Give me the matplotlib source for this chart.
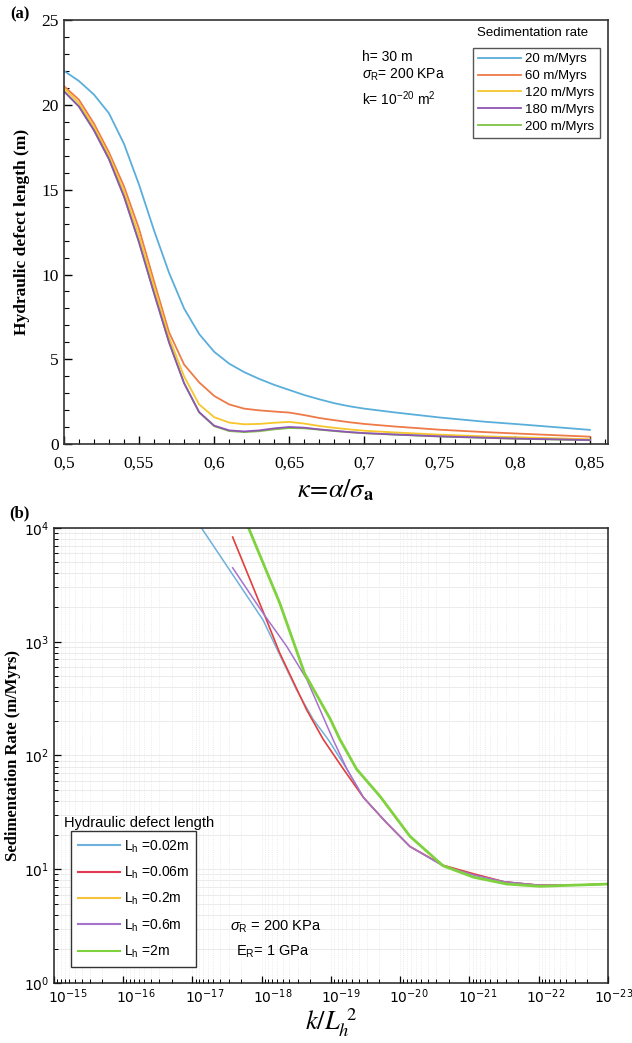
import numpy as np
import matplotlib
matplotlib.use("Agg")
import matplotlib.pyplot as plt
import matplotlib.transforms as mtransforms
from matplotlib.ticker import FixedLocator, MultipleLocator, LogLocator, NullFormatter

plt.rcParams['mathtext.fontset'] = 'custom'
plt.rcParams['mathtext.rm'] = 'Liberation Sans'
plt.rcParams['mathtext.it'] = 'Liberation Sans:italic'
plt.rcParams['mathtext.bf'] = 'Liberation Sans:bold'
plt.rcParams['axes.unicode_minus'] = False

SERIF = 'Liberation Serif'
SANS = 'Liberation Sans'

# ---- panel (a): hydraulic defect length vs kappa
kappa = [0.50, 0.51, 0.52, 0.53, 0.54, 0.55, 0.56, 0.57, 0.58, 0.59, 0.60, 0.61, 0.62,
         0.63, 0.64, 0.65, 0.66, 0.67, 0.68, 0.69, 0.70, 0.72, 0.75, 0.78, 0.80, 0.85]
len_20 = [22.0, 21.4, 20.6, 19.5, 17.7, 15.3, 12.6, 10.1, 8.0, 6.5, 5.45, 4.75, 4.25,
          3.85, 3.5, 3.2, 2.9, 2.65, 2.42, 2.24, 2.1, 1.88, 1.58, 1.33, 1.2, 0.85]
len_60 = [21.1, 20.3, 18.9, 17.2, 15.2, 12.7, 9.6, 6.6, 4.7, 3.65, 2.85, 2.35, 2.1,
          2.0, 1.93, 1.87, 1.72, 1.55, 1.42, 1.3, 1.2, 1.05, 0.86, 0.72, 0.64, 0.45]
len_120 = [21.0, 20.1, 18.7, 17.0, 14.9, 12.3, 9.3, 6.3, 4.0, 2.35, 1.6, 1.28, 1.18,
           1.2, 1.27, 1.32, 1.22, 1.08, 0.97, 0.88, 0.8, 0.7, 0.57, 0.47, 0.42, 0.3]
len_180 = [20.8, 19.9, 18.5, 16.8, 14.6, 11.9, 8.9, 6.0, 3.6, 1.9, 1.1, 0.82, 0.76,
           0.82, 0.94, 1.02, 0.98, 0.88, 0.8, 0.72, 0.66, 0.58, 0.47, 0.39, 0.34, 0.25]
len_200 = [20.8, 19.9, 18.5, 16.8, 14.6, 11.9, 8.9, 6.0, 3.6, 1.88, 1.07, 0.78, 0.72,
           0.77, 0.88, 0.96, 0.94, 0.86, 0.78, 0.71, 0.65, 0.57, 0.46, 0.38, 0.33, 0.24]
rate_labels = ['20 m/Myrs', '60 m/Myrs', '120 m/Myrs', '180 m/Myrs', '200 m/Myrs']
kappa_ticks = [0.5, 0.55, 0.6, 0.65, 0.7, 0.75, 0.8, 0.85]
kappa_ticklabels = ['0,5', '0,55', '0,6', '0,65', '0,7', '0,75', '0,8', '0,85']

# ---- panel (b): sedimentation rate vs k/Lh^2 (exponents of 10)
b_x_002 = [-17.05, -17.13, -18.02, -18.50, -18.74, -18.96, -19.23, -19.47, -19.80, -20.14,
           -20.62, -21.06, -21.5, -22.0, -22.5, -23.0]
b_y_002 = [4.08, 4.0, 3.19, 2.58, 2.32, 2.14, 1.88, 1.63, 1.41, 1.20,
           1.03, 0.95, 0.89, 0.86, 0.86, 0.87]
b_x_006 = [-17.58, -18.07, -18.26, -18.65, -18.89, -19.18, -19.47, -19.80, -20.14,
           -20.62, -21.06, -21.5, -22.0, -22.5, -23.0]
b_y_006 = [3.92, 3.19, 2.90, 2.40, 2.14, 1.88, 1.63, 1.41, 1.20,
           1.035, 0.96, 0.89, 0.86, 0.86, 0.87]
b_x_02 = b_x_006
b_y_02 = b_y_006
b_x_06 = [-17.58, -18.02, -18.36, -18.65, -19.03, -19.23, -19.47, -19.80, -20.14,
          -20.62, -21.06, -21.5, -22.0, -22.5, -23.0]
b_y_06 = [3.65, 3.25, 2.96, 2.67, 2.14, 1.88, 1.63, 1.41, 1.20,
          1.03, 0.95, 0.89, 0.86, 0.86, 0.87]
b_x_2 = [-17.75, -17.81, -18.26, -18.62, -18.99, -19.13, -19.37, -19.71, -20.14,
         -20.62, -21.06, -21.54, -22.02, -22.5, -23.0]
b_y_2 = [4.08, 4.0, 3.34, 2.72, 2.32, 2.14, 1.88, 1.64, 1.29,
         1.03, 0.93, 0.87, 0.85, 0.86, 0.87]
lh_labels = ['=0.02m', '=0.06m', '=0.2m', '=0.6m', '=2m']
b_decades = [-15, -16, -17, -18, -19, -20, -21, -22, -23]

fig = plt.figure(figsize=(6.32, 10.43), dpi=100)

# ================= (a)
ax1 = fig.add_axes([0.101, 0.574, 0.861, 0.407])
cols_a = ['#5aaedb', '#ee7a48', '#f6c62c', '#8e55b4', '#7dc245']
series_a = [len_20, len_60, len_120, len_200, len_180]
order_lab = [0, 1, 2, 4, 3]
handles = {}
for s, c, li in zip(series_a, [cols_a[0], cols_a[1], cols_a[2], cols_a[4], cols_a[3]], order_lab):
    h, = ax1.plot(kappa, s, color=c, lw=1.3)
    handles[li] = h
ax1.set_xlim(0.5, 0.862)
ax1.set_ylim(0, 25)
ax1.xaxis.set_major_locator(FixedLocator(kappa_ticks))
ax1.set_xticklabels(kappa_ticklabels)
ax1.xaxis.set_minor_locator(MultipleLocator(0.01))
ax1.yaxis.set_major_locator(MultipleLocator(5))
ax1.yaxis.set_minor_locator(MultipleLocator(1))
ax1.tick_params(which='both', direction='in', top=False, right=False, labelsize=12.5)
ax1.tick_params(which='major', length=6, width=1)
ax1.tick_params(which='minor', length=3.5, width=0.8)
for lab in ax1.get_xticklabels() + ax1.get_yticklabels():
    lab.set_family(SERIF)
ax1.tick_params(axis='x', pad=8)
for sp in ax1.spines.values():
    sp.set_color('#333333')
    sp.set_linewidth(1.2)
ax1.set_ylabel('Hydraulic defect length (m)', family=SERIF, fontweight='bold', fontsize=12.5, labelpad=8)
ax1.set_xlabel(r'$\kappa\!=\!\alpha/\sigma_{\mathbf{a}}$', fontsize=19, math_fontfamily='stix', labelpad=4)

leg1 = ax1.legend([handles[i] for i in range(5)], rate_labels, loc='upper right',
                  bbox_to_anchor=(0.985, 0.934), borderaxespad=0, fancybox=False,
                  edgecolor='#555555', framealpha=1, handlelength=3.3, labelspacing=0.35,
                  prop={'family': SANS, 'size': 9.5}, borderpad=0.4, handletextpad=0.3)
leg1.get_frame().set_linewidth(1.0)
ax1.text(0.862, 0.969, 'Sedimentation rate', transform=ax1.transAxes, ha='center', va='center',
         family=SANS, fontsize=9.5)
ax1.text(0.548, 0.913, 'h= 30 m', transform=ax1.transAxes, ha='left', va='center',
         family=SANS, fontsize=10)
ax1.text(0.548, 0.870, r'$\sigma_{\mathrm{R}}$= 200 KPa', transform=ax1.transAxes, ha='left',
         va='center', family=SANS, fontsize=10)
ax1.text(0.548, 0.815, r'k= 10$^{\mathrm{-20}}$ m$^{\mathrm{2}}$', transform=ax1.transAxes,
         ha='left', va='center', family=SANS, fontsize=10)
fig.text(0.016, 0.986, '(a)', family=SERIF, fontweight='bold', fontsize=12, ha='left', va='center')

# ================= (b)
ax2 = fig.add_axes([0.0854, 0.0575, 0.8766, 0.4363])
ax2.set_xscale('log')
ax2.set_yscale('log')
series_b = [
    (b_x_002, b_y_002, '#6fb0da', 1.1),
    (b_x_02, b_y_02, '#f7c23a', 1.1),
    (b_x_006, b_y_006, '#e23a52', 1.1),
    (b_x_06, b_y_06, '#a673cc', 1.1),
    (b_x_2, b_y_2, '#7fd23e', 2.0),
]
for xs, ys, c, lw in series_b:
    ax2.plot(np.power(10.0, xs), np.power(10.0, ys), color=c, lw=lw)
ax2.set_xlim(1e-15, 1e-23)
ax2.set_ylim(1, 1e4)
ax2.xaxis.set_major_locator(FixedLocator([10.0 ** d for d in b_decades]))
ax2.set_xticklabels([r'$\mathregular{10^{%d}}$' % d for d in b_decades])
ax2.xaxis.set_minor_locator(LogLocator(base=10, subs=np.arange(2, 10), numticks=20))
ax2.yaxis.set_major_locator(FixedLocator([1, 10, 100, 1000, 10000]))
ax2.set_yticklabels([r'$\mathregular{10^{%d}}$' % d for d in range(5)])
ax2.yaxis.set_minor_locator(LogLocator(base=10, subs=np.arange(2, 10), numticks=20))
ax2.xaxis.set_minor_formatter(NullFormatter())
ax2.yaxis.set_minor_formatter(NullFormatter())
ax2.tick_params(which='both', direction='in', top=False, right=False, labelsize=10)
ax2.tick_params(which='major', length=5, width=0.9)
ax2.tick_params(which='minor', length=3, width=0.7)
ax2.tick_params(axis='x', pad=3)
ax2.xaxis.grid(True, which='both', color='#e0e0e0', lw=0.5, ls=':')
ax2.yaxis.grid(True, which='both', color='#e8e8e8', lw=0.6, ls='-')
ax2.set_axisbelow(True)
for sp in ax2.spines.values():
    sp.set_color('#222222')
    sp.set_linewidth(1.1)
ax2.set_ylabel('Sedimentation Rate (m/Myrs)', family=SERIF, fontweight='bold', fontsize=12,
               labelpad=2)
ax2.set_xlabel(r'$k/L_h^{\ 2}$', fontsize=19, math_fontfamily='stix', labelpad=0)

# tick labels sit a little right of their ticks in the original (more on the left)
for i, lab in enumerate(ax2.get_xticklabels()):
    shift = mtransforms.ScaledTranslation((14 - i) / 100, 0, fig.dpi_scale_trans)
    lab.set_transform(lab.get_transform() + shift)

leg_handles = ax2.get_lines()
leg_order = [0, 2, 1, 3, 4]
leg2 = ax2.legend([leg_handles[i] for i in leg_order],
                  [r'L$_{\mathrm{h}}$ ' + s for s in lh_labels], loc='lower left',
                  bbox_to_anchor=(0.031, 0.035), borderaxespad=0, fancybox=False,
                  edgecolor='#333333', framealpha=1, handlelength=3.0, labelspacing=0.72,
                  prop={'family': SANS, 'size': 10}, borderpad=0.5, handletextpad=0.3)
leg2.get_frame().set_linewidth(1.0)
for l in leg2.get_lines():
    l.set_linewidth(1.5)
ax2.text(0.018, 0.352, 'Hydraulic defect length', transform=ax2.transAxes, ha='left',
         va='center', family=SANS, fontsize=10.5)
ax2.text(0.318, 0.123, r'$\sigma_{\mathrm{R}}$ = 200 KPa', transform=ax2.transAxes, ha='left',
         va='center', family=SANS, fontsize=10.5)
ax2.text(0.328, 0.068, r'E$_{\mathrm{R}}$= 1 GPa', transform=ax2.transAxes, ha='left',
         va='center', family=SANS, fontsize=10.5)
fig.text(0.014, 0.508, '(b)', family=SERIF, fontweight='bold', fontsize=12, ha='left', va='center')

fig.savefig('out.png', dpi=100)
